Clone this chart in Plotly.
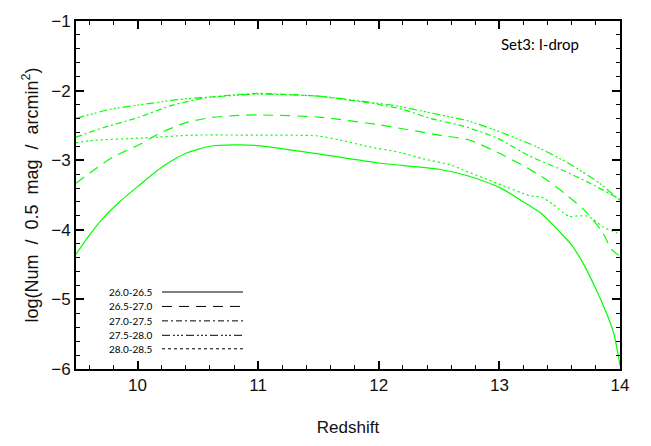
import plotly.graph_objects as go

# ---- data ----
legend_labels = ["26.0-26.5", "26.5-27.0", "27.0-27.5", "27.5-28.0", "28.0-28.5"]

z_a = [9.49, 9.6, 9.7, 9.85, 10.0, 10.2, 10.4, 10.6, 10.8, 11.0, 11.5, 12.0, 12.5,
       12.75, 13.0, 13.2, 13.35, 13.5, 13.6, 13.7, 13.8, 13.9, 13.95, 14.0]
v_a = [-4.35, -4.08, -3.86, -3.6, -3.38, -3.1, -2.9, -2.8, -2.78, -2.79, -2.91, -3.04, -3.13,
       -3.23, -3.39, -3.6, -3.77, -4.03, -4.22, -4.5, -4.85, -5.25, -5.5, -5.95]

z_b = [9.49, 9.63, 9.8, 10.0, 10.2, 10.4, 10.6, 10.8, 11.0, 11.5, 12.0, 12.5, 12.75,
       13.0, 13.2, 13.4, 13.55, 13.7, 13.85, 13.93, 14.0]
v_b = [-3.33, -3.15, -2.95, -2.79, -2.6, -2.46, -2.39, -2.36, -2.35, -2.38, -2.49, -2.64, -2.71,
       -2.9, -3.08, -3.29, -3.49, -3.71, -4.02, -4.28, -4.38]

z_c = [9.49, 9.72, 10.0, 10.27, 10.54, 10.8, 11.0, 11.5, 11.85, 12.0, 12.2, 12.43, 12.7,
       12.98, 13.25, 13.52, 13.75, 14.0]
v_c = [-2.67, -2.53, -2.39, -2.22, -2.11, -2.06, -2.04, -2.08, -2.16, -2.20, -2.27, -2.40, -2.51,
       -2.68, -2.94, -3.14, -3.33, -3.56]

z_d = [9.49, 9.77, 10.0, 10.33, 10.54, 10.8, 11.0, 11.5, 11.85, 12.15, 12.43, 12.73, 13.0,
       13.3, 13.58, 13.83, 14.0]
v_d = [-2.40, -2.27, -2.21, -2.13, -2.10, -2.07, -2.05, -2.08, -2.15, -2.22, -2.32, -2.43, -2.59,
       -2.80, -3.05, -3.33, -3.58]

z_e = [9.49, 9.6, 10.05, 10.46, 11.0, 11.49, 11.68, 11.9, 12.18, 12.37, 12.6, 12.7, 12.98,
       13.25, 13.3, 13.35, 13.44, 13.58, 13.65, 13.72, 13.77, 13.86, 13.97, 14.0]
v_e = [-2.75, -2.72, -2.68, -2.64, -2.64, -2.65, -2.71, -2.80, -2.89, -2.98, -3.07, -3.14, -3.33,
       -3.51, -3.52, -3.53, -3.63, -3.81, -3.80, -3.80, -3.84, -3.96, -4.04, -4.06]

x_ticks = [10, 11, 12, 13, 14]
y_ticks = [-6, -5, -4, -3, -2, -1]

series = [(z_a, v_a), (z_b, v_b), (z_c, v_c), (z_d, v_d), (z_e, v_e)]
dashes = ["solid", "10px,7px", "6px,3px,2px,3px", "8px,3px,2px,2px,2px,2px,2px,3px", "2px,3px"]
legend_dashes = ["solid", "10px,7px", "6px,3px,2px,3px", "8px,3px,2px,2px,2px,2px,2px,3px", "3px,3px"]

GREEN = "#00ff00"
fig = go.Figure()
for (zz, vv), lab, d in zip(series, legend_labels, dashes):
    fig.add_trace(go.Scatter(x=zz, y=vv, mode="lines", name=lab,
                             line=dict(color=GREEN, width=1.2, dash=d, shape="spline", smoothing=0.6),
                             showlegend=False))

# hand-drawn style legend (text left, sample line right), in paper coords
L, R, T, B = 76, 620, 11.5, 373
W, H = 651, 446
def px2paper(x, y):
    return (x - L) / (R - L), (B - y) / (B - T)

rows_y = [293, 308, 323, 338, 352]
for lab, d, ry in zip(legend_labels, legend_dashes, rows_y):
    tx, ty = px2paper(154, ry)
    fig.add_annotation(x=tx, y=ty, xref="paper", yref="paper", text=lab, showarrow=False,
                       xanchor="right", yanchor="middle",
                       font=dict(family="Lato", size=10, color="black"))
    x0, y0 = px2paper(162, ry)
    x1, _ = px2paper(243, ry)
    fig.add_shape(type="line", xref="paper", yref="paper", x0=x0, x1=x1, y0=y0, y1=y0,
                  line=dict(color="black", width=1, dash=d))

sx, sy = px2paper(540, 35)
fig.add_annotation(x=sx, y=sy, xref="paper", yref="paper", text="Set3: I-drop",
                   showarrow=False, xanchor="center", yanchor="middle",
                   font=dict(family="Lato", size=15, color="black"))

axis_common = dict(showline=True, linecolor="black", linewidth=2, mirror="allticks",
                   ticks="inside", ticklen=8, tickwidth=1.5, tickcolor="black",
                   showgrid=False, zeroline=False,
                   tickfont=dict(family="Liberation Sans", size=17, color="#111111"))

fig.update_xaxes(range=[9.49, 14], tickvals=x_ticks,
                 minor=dict(dtick=0.2, tick0=0, ticks="inside", ticklen=4, tickcolor="black", tickwidth=1),
                 title=dict(text="Redshift", font=dict(family="Liberation Sans", size=17, color="#111111"),
                            standoff=27),
                 **axis_common)
nb = "\u00a0"
ytitle = f"log(Num{nb*2}/{nb*2}0.5{nb*2}mag{nb*2}/{nb*2}arcmin<sup>2</sup>)"
fig.update_yaxes(range=[-6, -1], tickvals=y_ticks,
                 minor=dict(dtick=0.2, tick0=0, ticks="inside", ticklen=4, tickcolor="black", tickwidth=1),
                 title=dict(text=ytitle, font=dict(family="Liberation Sans", size=18, color="#111111"),
                            standoff=8),
                 **axis_common)

fig.update_layout(width=W, height=H, margin=dict(l=L, r=W - R, t=T, b=H - B),
                  paper_bgcolor="white", plot_bgcolor="white", showlegend=False)

fig.write_html("out.html", config={"displayModeBar": False})
